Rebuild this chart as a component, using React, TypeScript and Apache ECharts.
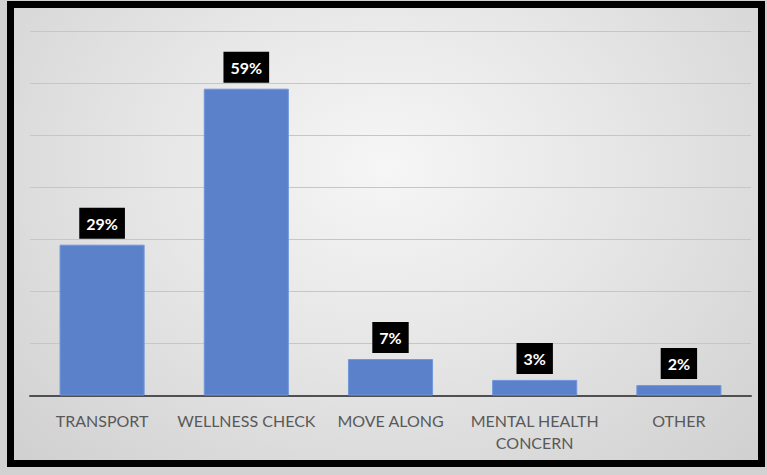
import React, { useEffect, useRef } from "react";
import * as echarts from "echarts";

const categories = ["TRANSPORT", "WELLNESS CHECK", "MOVE ALONG", "MENTAL HEALTH\nCONCERN", "OTHER"];
const values = [29, 59, 7, 3, 2];
const yTicks = { min: 0, max: 70, interval: 10 };

export default function App() {
  const ref = useRef<HTMLDivElement>(null);
  useEffect(() => {
    if (!ref.current) return;
    const chart = echarts.init(ref.current, undefined, { renderer: "svg" });
    chart.setOption({
      animation: false,
      backgroundColor: "transparent",
      grid: { left: 30, right: 16, top: 31.5, bottom: 79.5, containLabel: false },
      xAxis: {
        type: "category",
        data: categories,
        axisLine: { lineStyle: { color: "#505050", width: 2 } },
        axisTick: { show: false },
        axisLabel: {
          color: "#595959",
          fontSize: 16,
          fontFamily: "Lato",
          lineHeight: 22,
          margin: 14,
          interval: 0,
        },
      },
      yAxis: {
        type: "value",
        min: yTicks.min,
        max: yTicks.max,
        interval: yTicks.interval,
        axisLabel: { show: false },
        axisLine: { show: false },
        axisTick: { show: false },
        splitLine: { lineStyle: { color: "#c6c6c6", width: 1 } },
      },
      series: [
        {
          type: "bar",
          data: values,
          barWidth: "59%",
          itemStyle: { color: "#5a81ca", borderColor: "#7096dc", borderWidth: 1 },
          label: {
            show: true,
            position: "top",
            distance: 6,
            formatter: "{c}%",
            color: "#ffffff",
            backgroundColor: "#000000",
            fontWeight: "bold",
            fontSize: 16,
            fontFamily: "Lato",
            lineHeight: 17,
            padding: [7, 7, 7, 7],
          },
        },
      ],
    });
    return () => chart.dispose();
  }, []);
  return (
    <div style={{ position: "absolute", left: 0, top: 0, width: 767, height: 475, background: "#d2d2d2" }}>
      <div
        style={{
          position: "absolute",
          left: 7,
          top: 1,
          width: 758,
          height: 466,
          boxSizing: "border-box",
          border: "7px solid #000",
          background: "radial-gradient(ellipse at 50% 35%, #f6f6f6 0%, #e6e6e6 45%, #d0d0d0 100%)",
        }}
      />
      <div ref={ref} style={{ position: "absolute", left: 0, top: 0, width: 767, height: 475 }} />
    </div>
  );
}
